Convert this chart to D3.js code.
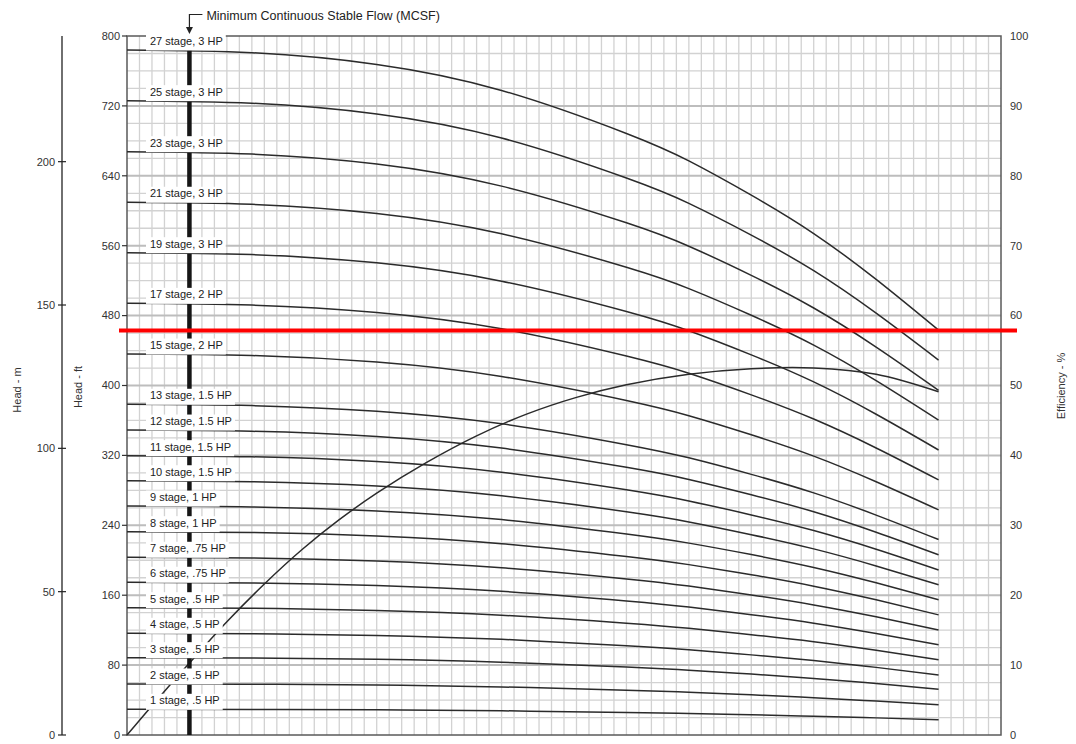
<!DOCTYPE html>
<html>
<head>
<meta charset="utf-8">
<script src="https://cdn.jsdelivr.net/npm/d3@7"></script>
<style>
  body { margin: 0; background: #fff; }
  svg { display: block; font-family: "Liberation Sans", Arial, Helvetica, sans-serif; }
</style>
</head>
<body>
<div id="chart"></div>
<script>
// flow points (grid divisions) where the head curves were read
const flowPts = [0, 10, 20, 30, 40, 45, 50, 55, 60, 65];

const stages = [1, 2, 3, 4, 5, 6, 7, 8, 9, 10, 11, 12, 13, 15, 17, 19, 21, 23, 25, 27];
const hpLabels = [".5", ".5", ".5", ".5", ".5", ".75", ".75", "1", "1", "1.5",
                  "1.5", "1.5", "1.5", "2", "2", "3", "3", "3", "3", "3"];

// head in ft for each stage count, at flowPts
const headFt = [
  [29.4, 29.3, 28.8, 27.7, 25.8, 24.6, 23.2, 21.5, 19.6, 17.4],
  [58.4, 58.2, 57.2, 55.0, 51.3, 48.9, 46.0, 42.7, 38.8, 34.5],
  [88.5, 88.1, 86.6, 83.3, 77.7, 74.2, 69.7, 64.8, 58.9, 52.3],
  [116.4, 115.9, 114.0, 109.5, 102.2, 97.5, 91.7, 85.2, 77.4, 68.8],
  [145.7, 145.1, 142.6, 137.1, 127.9, 122.1, 114.8, 106.7, 96.9, 86.1],
  [174.8, 174.1, 171.1, 164.5, 153.5, 146.5, 137.7, 128.0, 116.2, 103.3],
  [203.4, 202.6, 199.1, 191.4, 178.6, 170.4, 160.3, 148.9, 135.3, 120.2],
  [232.7, 231.8, 227.8, 219.0, 204.3, 195.0, 183.4, 170.3, 154.7, 137.5],
  [262.0, 261.0, 256.5, 246.5, 230.0, 219.6, 206.5, 191.8, 174.2, 154.8],
  [291.0, 289.8, 284.9, 273.8, 255.5, 243.9, 229.3, 213.0, 193.5, 172.0],
  [319.7, 318.4, 313.0, 300.8, 280.7, 267.9, 251.9, 234.0, 212.6, 188.9],
  [349.0, 347.6, 341.7, 328.4, 306.4, 292.5, 275.0, 255.5, 232.1, 206.3],
  [378.5, 377.0, 370.6, 356.2, 332.3, 317.2, 298.3, 277.1, 251.7, 223.7],
  [436.0, 434.3, 426.8, 410.3, 382.8, 365.4, 343.6, 319.2, 289.9, 257.7],
  [494.0, 492.0, 483.6, 464.9, 433.7, 414.0, 389.3, 361.6, 328.5, 292.0],
  [552.0, 549.8, 540.4, 519.4, 484.7, 462.6, 435.0, 404.1, 367.1, 326.2],
  [609.7, 607.3, 596.9, 573.7, 535.3, 510.9, 480.4, 446.3, 405.5, 360.3],
  [667.6, 664.9, 653.6, 628.2, 586.2, 559.4, 526.1, 488.7, 444.0, 394.5],
  [726.0, 723.1, 710.8, 683.2, 637.4, 608.4, 572.1, 531.4, 482.8, 429.1],
  [784.0, 780.9, 767.5, 737.7, 688.4, 657.0, 617.8, 573.9, 521.4, 463.3]
];

// efficiency curve
const effFlow = [0, 2, 5, 8, 11, 14, 17, 20, 24, 28, 32, 36, 40, 45, 50, 55, 60, 65];
const effPct = [0, 4.2, 10.3, 16.2, 21.6, 26.5, 30.8, 34.6, 39.0, 42.8, 45.9, 48.3, 50.1, 51.6, 52.4, 52.5, 51.6, 49.1];

const ftTicks = [0, 80, 160, 240, 320, 400, 480, 560, 640, 720, 800];
const mTicks = [0, 50, 100, 150, 200];
const effTicks = [0, 10, 20, 30, 40, 50, 60, 70, 80, 90, 100];

const mcsfFlow = 5;
const redLineFt = 463;
const mcsfText = "Minimum Continuous Stable Flow (MCSF)";

const width = 1076, height = 744;
const plot = {left: 127, right: 1001, top: 36, bottom: 735};

const x = d3.scaleLinear().domain([0, 70]).range([plot.left, plot.right]);
const yFt = d3.scaleLinear().domain([0, 800]).range([plot.bottom, plot.top]);
const yM = d3.scaleLinear().domain([0, 800 / 3.28084]).range([plot.bottom, plot.top]);
const yEff = d3.scaleLinear().domain([0, 100]).range([plot.bottom, plot.top]);

const svg = d3.select("#chart").append("svg")
    .attr("width", width)
    .attr("height", height);

// grid
const grid = svg.append("g");
grid.selectAll("line.v")
    .data(d3.range(1, 70))
    .enter().append("line")
    .attr("x1", d => x(d)).attr("x2", d => x(d))
    .attr("y1", plot.top).attr("y2", plot.bottom)
    .attr("stroke", "#d2d2d2").attr("stroke-width", 1.3);
grid.selectAll("line.h")
    .data(d3.range(20, 800, 20))
    .enter().append("line")
    .attr("x1", plot.left).attr("x2", plot.right)
    .attr("y1", d => yFt(d)).attr("y2", d => yFt(d))
    .attr("stroke", d => d % 80 === 0 ? "#bdbdbd" : "#d2d2d2")
    .attr("stroke-width", d => d % 80 === 0 ? 2 : 1.3);

// frame
svg.append("rect")
    .attr("x", plot.left).attr("y", plot.top)
    .attr("width", plot.right - plot.left).attr("height", plot.bottom - plot.top)
    .attr("fill", "none").attr("stroke", "#5a5a5a").attr("stroke-width", 1.5);

// head curves
const headLine = d3.line()
    .x((d, i) => x(flowPts[i]))
    .y(d => yFt(d))
    .curve(d3.curveNatural);

svg.append("g").selectAll("path")
    .data(headFt)
    .enter().append("path")
    .attr("d", headLine)
    .attr("fill", "none")
    .attr("stroke", "#2b2b2b")
    .attr("stroke-width", 1.5);

// efficiency curve
const effLine = d3.line()
    .x((d, i) => x(effFlow[i]))
    .y(d => yEff(d))
    .curve(d3.curveCatmullRom.alpha(0.5));

svg.append("path")
    .datum(effPct)
    .attr("d", effLine)
    .attr("fill", "none")
    .attr("stroke", "#2b2b2b")
    .attr("stroke-width", 1.5);

// MCSF bar
svg.append("line")
    .attr("x1", x(mcsfFlow)).attr("x2", x(mcsfFlow))
    .attr("y1", yFt(784) - 1).attr("y2", plot.bottom)
    .attr("stroke", "#161616").attr("stroke-width", 4.5);

// stage labels with white boxes
const labels = svg.append("g");
stages.forEach((s, i) => {
  const base = yFt(headFt[i][0]) - 5;
  const t = labels.append("text")
      .attr("x", 150).attr("y", base)
      .attr("font-size", 11)
      .attr("fill", "#222")
      .text(`${s} stage, ${hpLabels[i]} HP`);
  const w = t.node().getComputedTextLength();
  labels.insert("rect", "text")
      .attr("x", 146).attr("y", base - 10.5)
      .attr("width", w + 7).attr("height", 16)
      .attr("fill", "#fff");
});

// red reference line
svg.append("line")
    .attr("x1", x(0) - 8).attr("x2", x(70) + 16)
    .attr("y1", yFt(redLineFt)).attr("y2", yFt(redLineFt))
    .attr("stroke", "#ff0000").attr("stroke-width", 4);

// MCSF annotation
const ax = x(mcsfFlow);
svg.append("path")
    .attr("d", `M${ax + 13},14.5 H${ax} V29`)
    .attr("fill", "none").attr("stroke", "#222").attr("stroke-width", 1.2);
svg.append("path")
    .attr("d", `M${ax - 3.5},27 L${ax + 3.5},27 L${ax},34 Z`)
    .attr("fill", "#222");
svg.append("text")
    .attr("x", ax + 17).attr("y", 20)
    .attr("font-size", 12.5)
    .attr("fill", "#222")
    .text(mcsfText);

// head ft axis
const ftAxis = svg.append("g");
ftAxis.selectAll("line")
    .data(ftTicks).enter().append("line")
    .attr("x1", plot.left - 5).attr("x2", plot.left)
    .attr("y1", d => yFt(d)).attr("y2", d => yFt(d))
    .attr("stroke", "#333").attr("stroke-width", 1.2);
ftAxis.selectAll("text")
    .data(ftTicks).enter().append("text")
    .attr("x", plot.left - 7).attr("y", d => yFt(d))
    .attr("dy", "0.35em")
    .attr("text-anchor", "end")
    .attr("font-size", 11).attr("fill", "#333")
    .text(d => d);

// head m axis
const mx = 62;
const mAxis = svg.append("g");
mAxis.append("line")
    .attr("x1", mx).attr("x2", mx)
    .attr("y1", plot.top).attr("y2", plot.bottom)
    .attr("stroke", "#222").attr("stroke-width", 1.3);
mAxis.selectAll("line.t")
    .data(mTicks).enter().append("line")
    .attr("x1", mx - 4).attr("x2", mx + 4)
    .attr("y1", d => yM(d)).attr("y2", d => yM(d))
    .attr("stroke", "#222").attr("stroke-width", 1.2);
mAxis.selectAll("text")
    .data(mTicks).enter().append("text")
    .attr("x", mx - 7).attr("y", d => yM(d))
    .attr("dy", "0.35em")
    .attr("text-anchor", "end")
    .attr("font-size", 11).attr("fill", "#333")
    .text(d => d);

// efficiency axis
svg.append("g").selectAll("text")
    .data(effTicks).enter().append("text")
    .attr("x", plot.right + 9).attr("y", d => yEff(d))
    .attr("dy", "0.35em")
    .attr("font-size", 11).attr("fill", "#333")
    .text(d => d);

// axis titles
const titles = [
  {text: "Head - m", x: 17, y: 390},
  {text: "Head - ft", x: 78, y: 387},
  {text: "Efficiency - %", x: 1061, y: 386}
];
svg.append("g").selectAll("text")
    .data(titles).enter().append("text")
    .attr("transform", d => `translate(${d.x},${d.y}) rotate(-90)`)
    .attr("text-anchor", "middle")
    .attr("dy", "0.35em")
    .attr("font-size", 11).attr("fill", "#333")
    .text(d => d.text);
</script>
</body>
</html>
